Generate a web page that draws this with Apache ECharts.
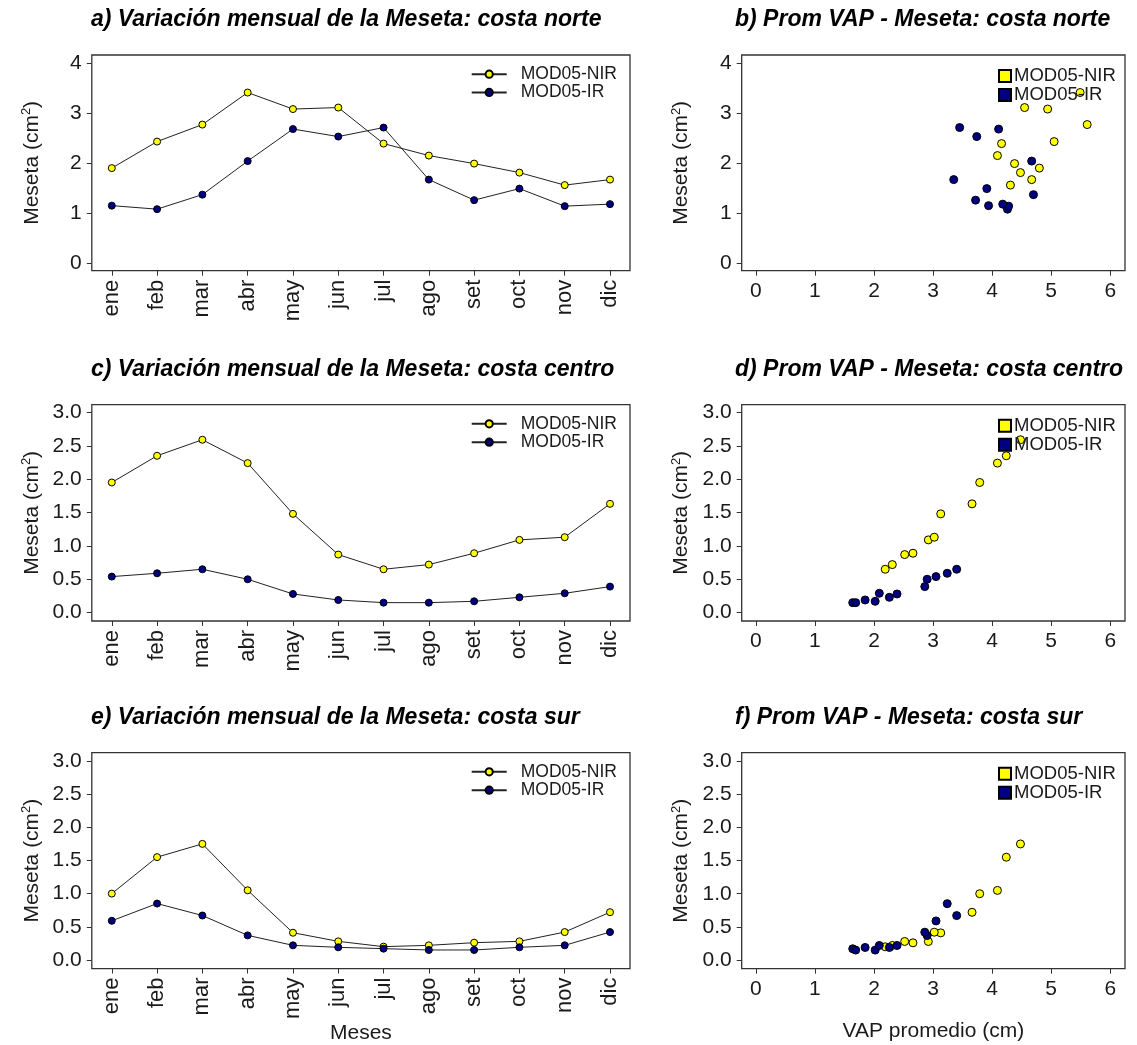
<!DOCTYPE html>
<html>
<head>
<meta charset="utf-8">
<script src="https://cdn.jsdelivr.net/npm/echarts@6/dist/echarts.min.js"></script>
<style>
html,body{margin:0;padding:0;background:#fff;}
#chart{width:1137px;height:1045px;}
</style>
</head>
<body>
<div id="chart"></div>
<script>
// ---------------- DATA ----------------
const months = ['ene','feb','mar','abr','may','jun','jul','ago','set','oct','nov','dic'];
const seriesNames = ['MOD05-NIR', 'MOD05-IR'];

// Costa norte
const nirNorte = [1.91, 2.44, 2.78, 3.42, 3.09, 3.12, 2.40, 2.16, 2.00, 1.82, 1.57, 1.68];
const irNorte  = [1.16, 1.09, 1.38, 2.05, 2.69, 2.54, 2.72, 1.68, 1.27, 1.50, 1.15, 1.19];
const vapNirNorte = [4.80, 5.05, 5.61, 5.49, 4.94, 4.55, 4.16, 4.09, 4.38, 4.48, 4.31, 4.67];
const vapIrNorte  = [3.94, 4.26, 4.70, 4.67, 4.11, 3.74, 3.45, 3.35, 3.72, 3.91, 4.28, 4.18];

// Costa centro
const nirCentro = [1.95, 2.35, 2.59, 2.24, 1.48, 0.87, 0.65, 0.72, 0.89, 1.09, 1.13, 1.63];
const irCentro  = [0.54, 0.59, 0.65, 0.50, 0.28, 0.19, 0.15, 0.15, 0.17, 0.23, 0.29, 0.39];
const vapNirCentro = [3.79, 4.24, 4.48, 4.09, 3.13, 2.52, 2.19, 2.31, 2.66, 2.92, 3.02, 3.66];
const vapIrCentro  = [3.05, 3.24, 3.40, 2.90, 2.39, 1.85, 1.64, 1.69, 2.02, 2.26, 2.09, 2.86];

// Costa sur
const nirSur = [1.00, 1.55, 1.75, 1.05, 0.41, 0.28, 0.20, 0.22, 0.26, 0.28, 0.42, 0.72];
const irSur  = [0.59, 0.85, 0.67, 0.37, 0.22, 0.19, 0.17, 0.15, 0.15, 0.19, 0.22, 0.42];
const vapNirSur = [3.79, 4.24, 4.48, 4.09, 3.13, 2.52, 2.19, 2.31, 2.66, 2.92, 3.02, 3.66];
const vapIrSur  = [3.05, 3.24, 3.40, 2.90, 2.39, 1.85, 1.64, 1.69, 2.02, 2.26, 2.09, 2.86];

// Tick labels
const yTicksNorte = [0, 1, 2, 3, 4];
const yTicksCS = [0, 0.5, 1.0, 1.5, 2.0, 2.5, 3.0];
const xTicksVap = [0, 1, 2, 3, 4, 5, 6];
const monthTicks = months.map((m, k) => k);

const titles = [
  'a) Variación mensual de la Meseta: costa norte',
  'b) Prom VAP - Meseta: costa norte',
  'c) Variación mensual de la Meseta: costa centro',
  'd) Prom VAP - Meseta: costa centro',
  'e) Variación mensual de la Meseta: costa sur',
  'f) Prom VAP - Meseta: costa sur'
];

// ---------------- LAYOUT / STYLE ----------------
const FONT = '"Liberation Sans", Arial, sans-serif';
const NIR_COLOR = '#FFFF00';
const IR_COLOR = '#000080';
const TXT = '#1a1a1a';

const panels = [
  {kind:'line', tag:'a', left:91.8, top:55, width:538.2, height:215.7, ymin:-0.14, ymax:4.17, yticks:yTicksNorte, dec:0, nir:nirNorte, ir:irNorte, titleLeft:91},
  {kind:'scatter', tag:'b', left:741.7, top:55, width:383.3, height:215.7, ymin:-0.14, ymax:4.17, yticks:yTicksNorte, dec:0, nir:nirNorte, ir:irNorte, vnir:vapNirNorte, vir:vapIrNorte, titleLeft:735},
  {kind:'line', tag:'c', left:91.8, top:404.7, width:538.2, height:216.3, ymin:-0.125, ymax:3.115, yticks:yTicksCS, dec:1, nir:nirCentro, ir:irCentro, titleLeft:91},
  {kind:'scatter', tag:'d', left:741.7, top:404.7, width:383.3, height:216.3, ymin:-0.125, ymax:3.115, yticks:yTicksCS, dec:1, nir:nirCentro, ir:irCentro, vnir:vapNirCentro, vir:vapIrCentro, titleLeft:735},
  {kind:'line', tag:'e', left:91.8, top:752.7, width:538.2, height:216, ymin:-0.13, ymax:3.125, yticks:yTicksCS, dec:1, nir:nirSur, ir:irSur, titleLeft:91, xname:'Meses'},
  {kind:'scatter', tag:'f', left:741.7, top:752.7, width:383.3, height:216, ymin:-0.13, ymax:3.125, yticks:yTicksCS, dec:1, nir:nirSur, ir:irSur, vnir:vapNirSur, vir:vapIrSur, titleLeft:735, xname:'VAP promedio (cm)'}
];

const option = {
  animation: false,
  backgroundColor: '#ffffff',
  textStyle: {fontFamily: FONT},
  title: [], grid: [], xAxis: [], yAxis: [], legend: [], series: []
};

panels.forEach((p, i) => {
  option.title.push({
    text: titles[i], left: p.titleLeft, top: p.top - 47, padding: 0,
    textStyle: {fontFamily: FONT, fontSize: 23, fontWeight: 'bold', fontStyle: 'italic', color: '#000'}
  });
  option.grid.push({
    left: p.left, top: p.top, width: p.width, height: p.height,
    show: true, borderColor: '#333', borderWidth: 1.3, backgroundColor: '#fff'
  });
  option.yAxis.push({
    gridIndex: i, type: 'value', min: p.ymin, max: p.ymax, position: 'left',
    axisLine: {show: false, onZero: false}, splitLine: {show: false},
    axisTick: {show: true, length: 5, customValues: p.yticks, lineStyle: {color: '#333', width: 1}},
    axisLabel: {customValues: p.yticks, formatter: v => Number(v).toFixed(p.dec), fontSize: 21, color: TXT, margin: 10, fontFamily: FONT},
    name: 'Meseta (cm{sup|2})', nameLocation: 'middle', nameGap: 48, nameRotate: 90,
    nameTextStyle: {fontSize: 21, color: TXT, fontFamily: FONT,
      rich: {sup: {fontSize: 13, color: TXT, fontFamily: FONT, padding: [0, 0, 11, 0]}}}
  });
  if (p.kind === 'line') {
    // months placed on a numeric scale so the band padding matches the reference
    option.xAxis.push({
      gridIndex: i, type: 'value', min: -0.4415, max: 11.4415, position: 'bottom',
      axisLine: {show: false, onZero: false}, splitLine: {show: false},
      axisTick: {show: true, length: 5, customValues: monthTicks, lineStyle: {color: '#333'}},
      axisLabel: {customValues: monthTicks, formatter: v => months[Math.round(v)], rotate: 90,
        fontSize: 22, color: TXT, margin: 9, fontFamily: FONT},
      name: p.xname || '', nameLocation: 'middle', nameGap: 52,
      nameTextStyle: {fontSize: 21, color: TXT, fontFamily: FONT}
    });
    option.series.push({
      type: 'line', name: p.tag + '|' + seriesNames[0], xAxisIndex: i, yAxisIndex: i,
      data: p.nir.map((v, k) => [k, v]), symbol: 'circle', symbolSize: 7, showSymbol: true,
      lineStyle: {color: '#222', width: 1},
      itemStyle: {color: NIR_COLOR, borderColor: '#000', borderWidth: 1}
    });
    option.series.push({
      type: 'line', name: p.tag + '|' + seriesNames[1], xAxisIndex: i, yAxisIndex: i,
      data: p.ir.map((v, k) => [k, v]), symbol: 'circle', symbolSize: 7, showSymbol: true,
      lineStyle: {color: '#222', width: 1},
      itemStyle: {color: IR_COLOR, borderColor: '#000', borderWidth: 1}
    });
    option.legend.push({
      data: [p.tag + '|' + seriesNames[0], p.tag + '|' + seriesNames[1]],
      orient: 'vertical', left: p.left + p.width - 159.3, top: p.top + 10,
      itemWidth: 35, itemHeight: 9, itemGap: 0, padding: 0, selectedMode: false,
      formatter: n => n.split('|')[1],
      textStyle: {fontSize: 17.5, lineHeight: 18.3, color: TXT, fontFamily: FONT, padding: [0, 0, 0, 9]}
    });
  } else {
    option.xAxis.push({
      gridIndex: i, type: 'value', min: -0.24, max: 6.25, position: 'bottom',
      axisLine: {show: false, onZero: false}, splitLine: {show: false},
      axisTick: {show: true, length: 5, customValues: xTicksVap, lineStyle: {color: '#333'}},
      axisLabel: {customValues: xTicksVap, fontSize: 21, color: TXT, margin: 10, fontFamily: FONT},
      name: p.xname || '', nameLocation: 'middle', nameGap: 52,
      nameTextStyle: {fontSize: 21, color: TXT, fontFamily: FONT}
    });
    option.series.push({
      type: 'scatter', name: p.tag + '|' + seriesNames[0], xAxisIndex: i, yAxisIndex: i,
      data: p.vnir.map((x, k) => [x, p.nir[k]]), symbol: 'circle', symbolSize: 8,
      itemStyle: {color: NIR_COLOR, borderColor: '#000', borderWidth: 1, opacity: 1}
    });
    option.series.push({
      type: 'scatter', name: p.tag + '|' + seriesNames[1], xAxisIndex: i, yAxisIndex: i,
      data: p.vir.map((x, k) => [x, p.ir[k]]), symbol: 'circle', symbolSize: 8,
      itemStyle: {color: IR_COLOR, borderColor: '#000', borderWidth: 1, opacity: 1}
    });
    option.legend.push({
      data: [{name: p.tag + '|' + seriesNames[0], icon: 'rect'}, {name: p.tag + '|' + seriesNames[1], icon: 'rect'}],
      orient: 'vertical', left: p.left + p.width - 127, top: p.top + 11.5,
      itemWidth: 12, itemHeight: 12, itemGap: 0, padding: 0, selectedMode: false,
      formatter: n => n.split('|')[1],
      textStyle: {fontSize: 18.5, lineHeight: 18.7, color: TXT, fontFamily: FONT, padding: [0, 0, 0, -2]}
    });
  }
});

const chart = echarts.init(document.getElementById('chart'), null, {renderer: 'canvas'});
chart.setOption(option);
</script>
</body>
</html>
